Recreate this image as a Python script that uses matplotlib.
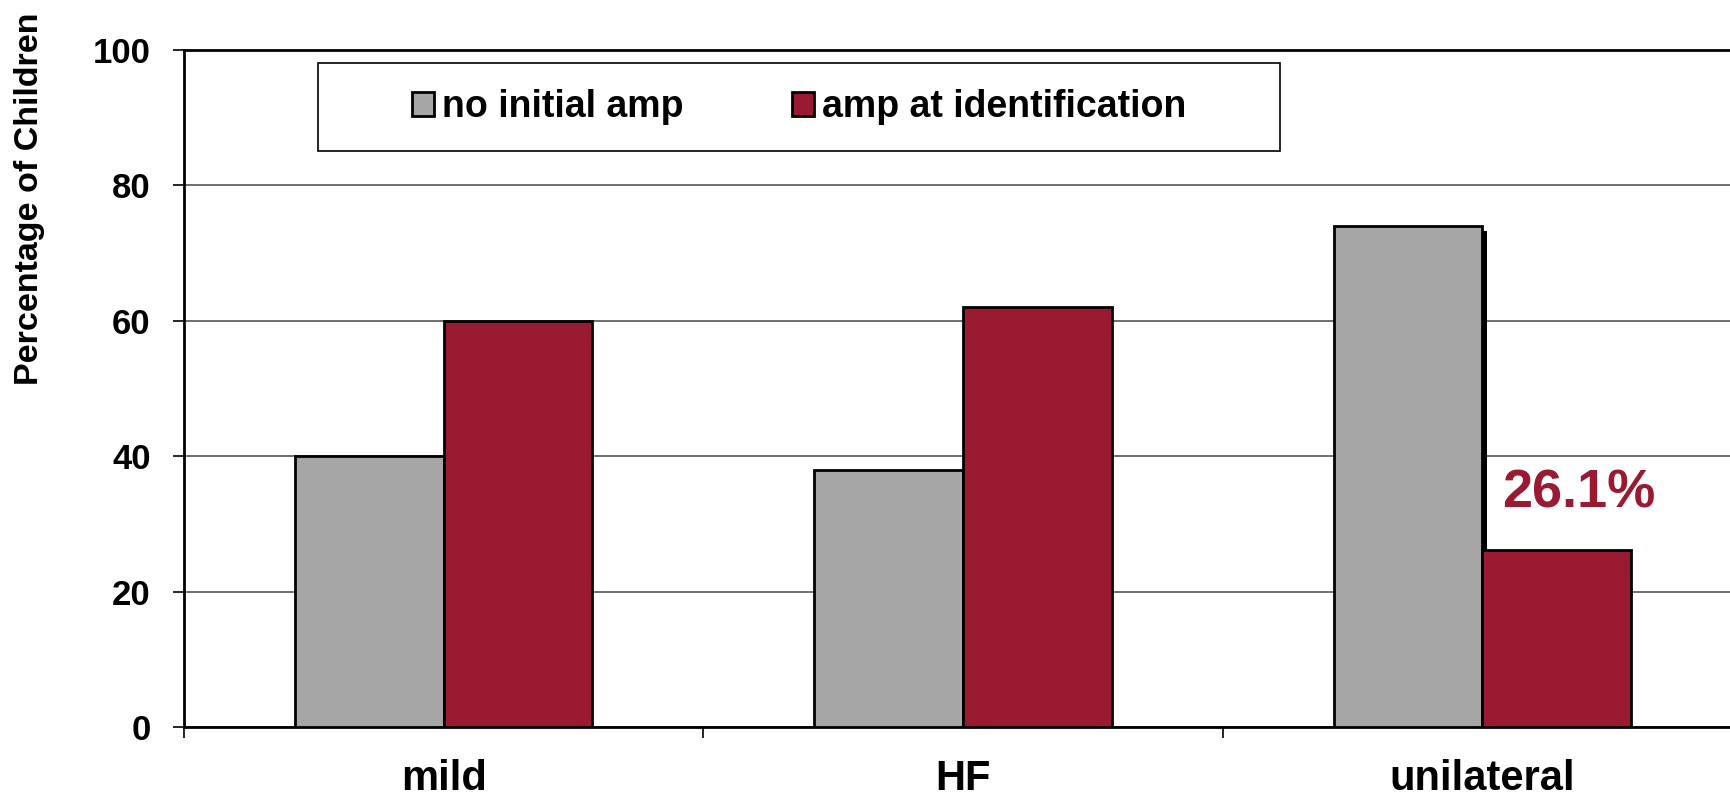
import numpy as np
import matplotlib.pyplot as plt
import matplotlib.patheffects as pe
from matplotlib.patches import Rectangle

# amplification status by hearing loss type
categories = ['mild', 'HF', 'unilateral']
no_initial_amp = [40, 38, 74]
amp_at_id = [60, 62, 26.1]
series_labels = ['no initial amp', 'amp at identification']
y_ticks = [0, 20, 40, 60, 80, 100]

GREY = '#a6a6a6'
RED = '#9a1a31'

plt.rcParams['font.family'] = ['Liberation Sans', 'DejaVu Sans']
plt.rcParams['font.weight'] = 'bold'

W, H = 1730, 797
fig = plt.figure(figsize=(W / 100, H / 100), dpi=100)
# axes runs slightly past the right edge of the figure
left, right, top, bottom = 184, 1742, 50, 727
ax = fig.add_axes([left / W, 1 - bottom / H, (right - left) / W,
                   (bottom - top) / H])

x = np.arange(len(categories))
width = 0.286

grey_bars = ax.bar(x - width, no_initial_amp, width, align='edge',
                   color=GREY, edgecolor='black', linewidth=2.0, zorder=3,
                   label=series_labels[0])
red_bars = ax.bar(x, amp_at_id, width, align='edge',
                  color=RED, edgecolor='black', linewidth=2.0, zorder=4,
                  label=series_labels[1])

# drop shadow on the unilateral bar
grey_bars[2].set_path_effects([
    pe.SimplePatchShadow(offset=(3.6, -3.6), shadow_rgbFace='black',
                         alpha=1.0),
    pe.Normal()])

ax.text(x[2] + width / 2 + 0.042, amp_at_id[2] + 8.4, f'{amp_at_id[2]}%',
        ha='center', va='center', color=RED, fontsize=39,
        fontweight='bold', zorder=5)

ax.set_xlim(-0.5, len(categories) - 0.5)
ax.set_ylim(0, 100)
ax.set_yticks(y_ticks)
ax.tick_params(axis='y', length=8, width=1.2, pad=16, labelsize=25)
ax.yaxis.grid(True, color='#555555', linewidth=1.2, zorder=0)

ax.set_xticks(np.arange(-0.5, len(categories), 1.0))
ax.set_xticklabels([])
ax.tick_params(axis='x', which='major', length=8, width=1.2)
ax.set_xticks(x, minor=True)
ax.set_xticklabels(categories, minor=True)
ax.tick_params(axis='x', which='minor', length=0, pad=23, labelsize=30)

for side in ['left', 'bottom', 'top', 'right']:
    ax.spines[side].set_linewidth(2.0)
    ax.spines[side].set_color('black')

fig.text(30 / W, 1 - 199 / H, 'Percentage of Children', rotation=90,
         ha='center', va='center', fontsize=24.5, fontweight='bold')

# legend box with the entries centred inside it
lx0, lx1, ly0, ly1 = 318, 1280, 63, 151
fig.patches.append(Rectangle((lx0 / W, 1 - ly1 / H), (lx1 - lx0) / W,
                             (ly1 - ly0) / H, transform=fig.transFigure,
                             facecolor='white', edgecolor='black',
                             linewidth=1.2, zorder=6))
leg = fig.legend(handles=[grey_bars, red_bars], labels=series_labels,
                 loc='center', bbox_to_anchor=((lx0 + lx1) / 2 / W,
                                               1 - (ly0 + ly1) / 2 / H),
                 ncol=2, frameon=False, fontsize=27, handlelength=0.6,
                 handleheight=0.6, handletextpad=0.2, columnspacing=2.9)
leg.set_zorder(7)

fig.savefig('out.png', dpi=100)
